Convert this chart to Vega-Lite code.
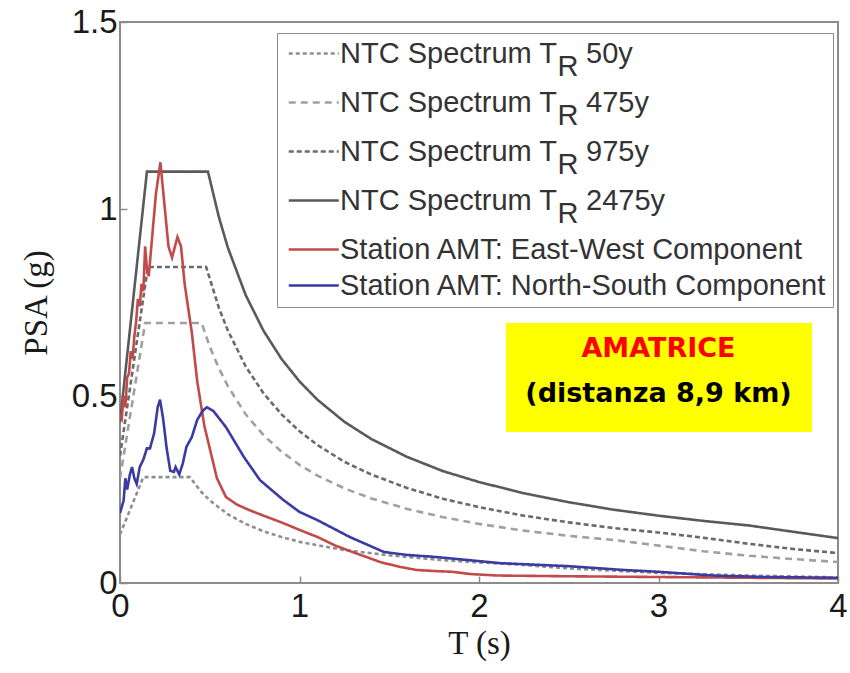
{
  "$schema": "https://vega.github.io/schema/vega-lite/v6.json",
  "width": 718,
  "height": 561,
  "autosize": "none",
  "padding": {"left": 120, "top": 22, "right": 12, "bottom": 90},
  "background": "white",
  "config": {
    "view": {"stroke": "#8c8c8c", "strokeWidth": 2},
    "axis": {
      "domain": false, "grid": false, "ticks": true, "tickSize": 7, "offset": -7, "tickColor": "#8c8c8c", "tickWidth": 1.5,
      "labelFont": "Liberation Sans", "labelFontSize": 33, "labelColor": "#1a1a1a", "labelFlush": false,
      "titleFont": "Liberation Serif", "titleFontSize": 33, "titleFontWeight": "normal", "titleColor": "#1a1a1a"
    },
    "legend": {
      "orient": "none", "legendX": 157, "legendY": 11, "padding": 6,
      "strokeColor": "#8c8c8c", "fillColor": "white",
      "symbolType": "M-0.7,0H3.3", "symbolSize": 625, "symbolStrokeWidth": 2.5,
      "labelFont": "Liberation Sans", "labelFontSize": 29, "labelColor": "#333333", "labelLimit": 700,
      "labelOffset": 28, "rowPadding": 6
    },
    "style": {"guide-label": {"lineHeight": 13}}
  },
  "layer": [
    {
      "data": {"values": [{}]},
      "mark": {"type": "rect", "color": "#ffff00"},
      "encoding": {
        "x": {"datum": 2.15, "type": "quantitative"},
        "x2": {"datum": 3.855},
        "y": {"datum": 0.695, "type": "quantitative"},
        "y2": {"datum": 0.404}
      }
    },
    {
      "data": {"values": [{}]},
      "mark": {"type": "text", "text": "AMATRICE", "color": "#ff0000", "font": "DejaVu Sans", "fontWeight": "bold", "fontSize": 27, "align": "center", "baseline": "alphabetic"},
      "encoding": {
        "x": {"datum": 3.0, "type": "quantitative"},
        "y": {"datum": 0.604, "type": "quantitative"}
      }
    },
    {
      "data": {"values": [{}]},
      "mark": {"type": "text", "text": "(distanza 8,9 km)", "color": "#000000", "font": "DejaVu Sans", "fontWeight": "bold", "fontSize": 27, "align": "center", "baseline": "alphabetic"},
      "encoding": {
        "x": {"datum": 3.0, "type": "quantitative"},
        "y": {"datum": 0.484, "type": "quantitative"}
      }
    },
    {
      "data": {"values": [
        {"series": "NTC Spectrum TR 50y", "T": 0, "psa": 0.13},
        {"series": "NTC Spectrum TR 50y", "T": 0.13, "psa": 0.283},
        {"series": "NTC Spectrum TR 50y", "T": 0.39, "psa": 0.283},
        {"series": "NTC Spectrum TR 50y", "T": 0.45, "psa": 0.245},
        {"series": "NTC Spectrum TR 50y", "T": 0.5, "psa": 0.221},
        {"series": "NTC Spectrum TR 50y", "T": 0.6, "psa": 0.184},
        {"series": "NTC Spectrum TR 50y", "T": 0.7, "psa": 0.158},
        {"series": "NTC Spectrum TR 50y", "T": 0.8, "psa": 0.138},
        {"series": "NTC Spectrum TR 50y", "T": 0.9, "psa": 0.123},
        {"series": "NTC Spectrum TR 50y", "T": 1.0, "psa": 0.11},
        {"series": "NTC Spectrum TR 50y", "T": 1.25, "psa": 0.088},
        {"series": "NTC Spectrum TR 50y", "T": 1.5, "psa": 0.074},
        {"series": "NTC Spectrum TR 50y", "T": 1.8, "psa": 0.061},
        {"series": "NTC Spectrum TR 50y", "T": 2.0, "psa": 0.055},
        {"series": "NTC Spectrum TR 50y", "T": 2.2, "psa": 0.05},
        {"series": "NTC Spectrum TR 50y", "T": 2.5, "psa": 0.039},
        {"series": "NTC Spectrum TR 50y", "T": 3.0, "psa": 0.027},
        {"series": "NTC Spectrum TR 50y", "T": 3.5, "psa": 0.02},
        {"series": "NTC Spectrum TR 50y", "T": 4.0, "psa": 0.015},

        {"series": "NTC Spectrum TR 475y", "T": 0, "psa": 0.28},
        {"series": "NTC Spectrum TR 475y", "T": 0.14, "psa": 0.695},
        {"series": "NTC Spectrum TR 475y", "T": 0.455, "psa": 0.695},
        {"series": "NTC Spectrum TR 475y", "T": 0.5, "psa": 0.632},
        {"series": "NTC Spectrum TR 475y", "T": 0.55, "psa": 0.575},
        {"series": "NTC Spectrum TR 475y", "T": 0.6, "psa": 0.527},
        {"series": "NTC Spectrum TR 475y", "T": 0.7, "psa": 0.451},
        {"series": "NTC Spectrum TR 475y", "T": 0.8, "psa": 0.395},
        {"series": "NTC Spectrum TR 475y", "T": 0.9, "psa": 0.351},
        {"series": "NTC Spectrum TR 475y", "T": 1.0, "psa": 0.316},
        {"series": "NTC Spectrum TR 475y", "T": 1.1, "psa": 0.287},
        {"series": "NTC Spectrum TR 475y", "T": 1.25, "psa": 0.253},
        {"series": "NTC Spectrum TR 475y", "T": 1.4, "psa": 0.226},
        {"series": "NTC Spectrum TR 475y", "T": 1.6, "psa": 0.198},
        {"series": "NTC Spectrum TR 475y", "T": 1.8, "psa": 0.176},
        {"series": "NTC Spectrum TR 475y", "T": 2.0, "psa": 0.158},
        {"series": "NTC Spectrum TR 475y", "T": 2.25, "psa": 0.14},
        {"series": "NTC Spectrum TR 475y", "T": 2.5, "psa": 0.126},
        {"series": "NTC Spectrum TR 475y", "T": 2.75, "psa": 0.115},
        {"series": "NTC Spectrum TR 475y", "T": 3.0, "psa": 0.1},
        {"series": "NTC Spectrum TR 475y", "T": 3.25, "psa": 0.085},
        {"series": "NTC Spectrum TR 475y", "T": 3.5, "psa": 0.073},
        {"series": "NTC Spectrum TR 475y", "T": 3.75, "psa": 0.064},
        {"series": "NTC Spectrum TR 475y", "T": 4.0, "psa": 0.056},

        {"series": "NTC Spectrum TR 975y", "T": 0, "psa": 0.34},
        {"series": "NTC Spectrum TR 975y", "T": 0.155, "psa": 0.845},
        {"series": "NTC Spectrum TR 975y", "T": 0.48, "psa": 0.845},
        {"series": "NTC Spectrum TR 975y", "T": 0.55, "psa": 0.737},
        {"series": "NTC Spectrum TR 975y", "T": 0.6, "psa": 0.676},
        {"series": "NTC Spectrum TR 975y", "T": 0.7, "psa": 0.579},
        {"series": "NTC Spectrum TR 975y", "T": 0.8, "psa": 0.507},
        {"series": "NTC Spectrum TR 975y", "T": 0.9, "psa": 0.451},
        {"series": "NTC Spectrum TR 975y", "T": 1.0, "psa": 0.406},
        {"series": "NTC Spectrum TR 975y", "T": 1.1, "psa": 0.369},
        {"series": "NTC Spectrum TR 975y", "T": 1.25, "psa": 0.324},
        {"series": "NTC Spectrum TR 975y", "T": 1.4, "psa": 0.29},
        {"series": "NTC Spectrum TR 975y", "T": 1.6, "psa": 0.254},
        {"series": "NTC Spectrum TR 975y", "T": 1.8, "psa": 0.225},
        {"series": "NTC Spectrum TR 975y", "T": 2.0, "psa": 0.203},
        {"series": "NTC Spectrum TR 975y", "T": 2.25, "psa": 0.18},
        {"series": "NTC Spectrum TR 975y", "T": 2.5, "psa": 0.162},
        {"series": "NTC Spectrum TR 975y", "T": 2.75, "psa": 0.147},
        {"series": "NTC Spectrum TR 975y", "T": 3.0, "psa": 0.135},
        {"series": "NTC Spectrum TR 975y", "T": 3.25, "psa": 0.121},
        {"series": "NTC Spectrum TR 975y", "T": 3.5, "psa": 0.105},
        {"series": "NTC Spectrum TR 975y", "T": 3.75, "psa": 0.091},
        {"series": "NTC Spectrum TR 975y", "T": 4.0, "psa": 0.08},

        {"series": "NTC Spectrum TR 2475y", "T": 0, "psa": 0.43},
        {"series": "NTC Spectrum TR 2475y", "T": 0.15, "psa": 1.1},
        {"series": "NTC Spectrum TR 2475y", "T": 0.49, "psa": 1.1},
        {"series": "NTC Spectrum TR 2475y", "T": 0.55, "psa": 0.98},
        {"series": "NTC Spectrum TR 2475y", "T": 0.6, "psa": 0.898},
        {"series": "NTC Spectrum TR 2475y", "T": 0.7, "psa": 0.77},
        {"series": "NTC Spectrum TR 2475y", "T": 0.8, "psa": 0.674},
        {"series": "NTC Spectrum TR 2475y", "T": 0.9, "psa": 0.599},
        {"series": "NTC Spectrum TR 2475y", "T": 1.0, "psa": 0.539},
        {"series": "NTC Spectrum TR 2475y", "T": 1.1, "psa": 0.49},
        {"series": "NTC Spectrum TR 2475y", "T": 1.25, "psa": 0.431},
        {"series": "NTC Spectrum TR 2475y", "T": 1.4, "psa": 0.385},
        {"series": "NTC Spectrum TR 2475y", "T": 1.6, "psa": 0.337},
        {"series": "NTC Spectrum TR 2475y", "T": 1.8, "psa": 0.299},
        {"series": "NTC Spectrum TR 2475y", "T": 2.0, "psa": 0.27},
        {"series": "NTC Spectrum TR 2475y", "T": 2.25, "psa": 0.24},
        {"series": "NTC Spectrum TR 2475y", "T": 2.5, "psa": 0.216},
        {"series": "NTC Spectrum TR 2475y", "T": 2.75, "psa": 0.196},
        {"series": "NTC Spectrum TR 2475y", "T": 3.0, "psa": 0.18},
        {"series": "NTC Spectrum TR 2475y", "T": 3.25, "psa": 0.166},
        {"series": "NTC Spectrum TR 2475y", "T": 3.5, "psa": 0.154},
        {"series": "NTC Spectrum TR 2475y", "T": 3.75, "psa": 0.137},
        {"series": "NTC Spectrum TR 2475y", "T": 4.0, "psa": 0.12},

        {"series": "Station AMT: East-West Component", "T": 0.0, "psa": 0.45},
        {"series": "Station AMT: East-West Component", "T": 0.01, "psa": 0.44},
        {"series": "Station AMT: East-West Component", "T": 0.02, "psa": 0.5},
        {"series": "Station AMT: East-West Component", "T": 0.03, "psa": 0.47},
        {"series": "Station AMT: East-West Component", "T": 0.04, "psa": 0.55},
        {"series": "Station AMT: East-West Component", "T": 0.05, "psa": 0.56},
        {"series": "Station AMT: East-West Component", "T": 0.06, "psa": 0.62},
        {"series": "Station AMT: East-West Component", "T": 0.07, "psa": 0.6},
        {"series": "Station AMT: East-West Component", "T": 0.08, "psa": 0.66},
        {"series": "Station AMT: East-West Component", "T": 0.09, "psa": 0.7},
        {"series": "Station AMT: East-West Component", "T": 0.1, "psa": 0.76},
        {"series": "Station AMT: East-West Component", "T": 0.11, "psa": 0.74},
        {"series": "Station AMT: East-West Component", "T": 0.12, "psa": 0.8},
        {"series": "Station AMT: East-West Component", "T": 0.13, "psa": 0.78},
        {"series": "Station AMT: East-West Component", "T": 0.14, "psa": 0.9},
        {"series": "Station AMT: East-West Component", "T": 0.15, "psa": 0.84},
        {"series": "Station AMT: East-West Component", "T": 0.16, "psa": 0.82},
        {"series": "Station AMT: East-West Component", "T": 0.18, "psa": 0.93},
        {"series": "Station AMT: East-West Component", "T": 0.2, "psa": 1.04},
        {"series": "Station AMT: East-West Component", "T": 0.225, "psa": 1.125},
        {"series": "Station AMT: East-West Component", "T": 0.25, "psa": 1.0},
        {"series": "Station AMT: East-West Component", "T": 0.27, "psa": 0.9},
        {"series": "Station AMT: East-West Component", "T": 0.29, "psa": 0.87},
        {"series": "Station AMT: East-West Component", "T": 0.32, "psa": 0.925},
        {"series": "Station AMT: East-West Component", "T": 0.34, "psa": 0.9},
        {"series": "Station AMT: East-West Component", "T": 0.36, "psa": 0.8},
        {"series": "Station AMT: East-West Component", "T": 0.4, "psa": 0.67},
        {"series": "Station AMT: East-West Component", "T": 0.43, "psa": 0.54},
        {"series": "Station AMT: East-West Component", "T": 0.47, "psa": 0.42},
        {"series": "Station AMT: East-West Component", "T": 0.5, "psa": 0.36},
        {"series": "Station AMT: East-West Component", "T": 0.54, "psa": 0.28},
        {"series": "Station AMT: East-West Component", "T": 0.59, "psa": 0.23},
        {"series": "Station AMT: East-West Component", "T": 0.65, "psa": 0.21},
        {"series": "Station AMT: East-West Component", "T": 0.72, "psa": 0.195},
        {"series": "Station AMT: East-West Component", "T": 0.8, "psa": 0.18},
        {"series": "Station AMT: East-West Component", "T": 0.91, "psa": 0.16},
        {"series": "Station AMT: East-West Component", "T": 1.0, "psa": 0.142},
        {"series": "Station AMT: East-West Component", "T": 1.1, "psa": 0.123},
        {"series": "Station AMT: East-West Component", "T": 1.2, "psa": 0.1},
        {"series": "Station AMT: East-West Component", "T": 1.3, "psa": 0.082},
        {"series": "Station AMT: East-West Component", "T": 1.37, "psa": 0.07},
        {"series": "Station AMT: East-West Component", "T": 1.45, "psa": 0.056},
        {"series": "Station AMT: East-West Component", "T": 1.56, "psa": 0.043},
        {"series": "Station AMT: East-West Component", "T": 1.65, "psa": 0.035},
        {"series": "Station AMT: East-West Component", "T": 1.75, "psa": 0.032},
        {"series": "Station AMT: East-West Component", "T": 1.85, "psa": 0.03},
        {"series": "Station AMT: East-West Component", "T": 1.95, "psa": 0.024},
        {"series": "Station AMT: East-West Component", "T": 2.1, "psa": 0.02},
        {"series": "Station AMT: East-West Component", "T": 2.5, "psa": 0.018},
        {"series": "Station AMT: East-West Component", "T": 3.0, "psa": 0.016},
        {"series": "Station AMT: East-West Component", "T": 3.5, "psa": 0.014},
        {"series": "Station AMT: East-West Component", "T": 4.0, "psa": 0.012},

        {"series": "Station AMT: North-South Component", "T": 0.0, "psa": 0.187},
        {"series": "Station AMT: North-South Component", "T": 0.02, "psa": 0.22},
        {"series": "Station AMT: North-South Component", "T": 0.03, "psa": 0.28},
        {"series": "Station AMT: North-South Component", "T": 0.04, "psa": 0.25},
        {"series": "Station AMT: North-South Component", "T": 0.055, "psa": 0.29},
        {"series": "Station AMT: North-South Component", "T": 0.067, "psa": 0.31},
        {"series": "Station AMT: North-South Component", "T": 0.08, "psa": 0.28},
        {"series": "Station AMT: North-South Component", "T": 0.093, "psa": 0.265},
        {"series": "Station AMT: North-South Component", "T": 0.11, "psa": 0.31},
        {"series": "Station AMT: North-South Component", "T": 0.13, "psa": 0.33},
        {"series": "Station AMT: North-South Component", "T": 0.15, "psa": 0.36},
        {"series": "Station AMT: North-South Component", "T": 0.167, "psa": 0.36},
        {"series": "Station AMT: North-South Component", "T": 0.19, "psa": 0.4},
        {"series": "Station AMT: North-South Component", "T": 0.21, "psa": 0.47},
        {"series": "Station AMT: North-South Component", "T": 0.223, "psa": 0.49},
        {"series": "Station AMT: North-South Component", "T": 0.24, "psa": 0.44},
        {"series": "Station AMT: North-South Component", "T": 0.26, "psa": 0.36},
        {"series": "Station AMT: North-South Component", "T": 0.28, "psa": 0.3},
        {"series": "Station AMT: North-South Component", "T": 0.3, "psa": 0.297},
        {"series": "Station AMT: North-South Component", "T": 0.31, "psa": 0.31},
        {"series": "Station AMT: North-South Component", "T": 0.33, "psa": 0.29},
        {"series": "Station AMT: North-South Component", "T": 0.35, "psa": 0.32},
        {"series": "Station AMT: North-South Component", "T": 0.37, "psa": 0.364},
        {"series": "Station AMT: North-South Component", "T": 0.4, "psa": 0.39},
        {"series": "Station AMT: North-South Component", "T": 0.43, "psa": 0.436},
        {"series": "Station AMT: North-South Component", "T": 0.46, "psa": 0.46},
        {"series": "Station AMT: North-South Component", "T": 0.484, "psa": 0.47},
        {"series": "Station AMT: North-South Component", "T": 0.52, "psa": 0.46},
        {"series": "Station AMT: North-South Component", "T": 0.59, "psa": 0.417},
        {"series": "Station AMT: North-South Component", "T": 0.69, "psa": 0.337},
        {"series": "Station AMT: North-South Component", "T": 0.78, "psa": 0.275},
        {"series": "Station AMT: North-South Component", "T": 0.91, "psa": 0.222},
        {"series": "Station AMT: North-South Component", "T": 1.0, "psa": 0.19},
        {"series": "Station AMT: North-South Component", "T": 1.1, "psa": 0.168},
        {"series": "Station AMT: North-South Component", "T": 1.28, "psa": 0.123},
        {"series": "Station AMT: North-South Component", "T": 1.47, "psa": 0.083},
        {"series": "Station AMT: North-South Component", "T": 1.6, "psa": 0.075},
        {"series": "Station AMT: North-South Component", "T": 1.75, "psa": 0.07},
        {"series": "Station AMT: North-South Component", "T": 2.12, "psa": 0.053},
        {"series": "Station AMT: North-South Component", "T": 2.5, "psa": 0.045},
        {"series": "Station AMT: North-South Component", "T": 2.8, "psa": 0.035},
        {"series": "Station AMT: North-South Component", "T": 3.0, "psa": 0.03},
        {"series": "Station AMT: North-South Component", "T": 3.3, "psa": 0.02},
        {"series": "Station AMT: North-South Component", "T": 3.6, "psa": 0.016},
        {"series": "Station AMT: North-South Component", "T": 4.0, "psa": 0.014}
      ]},
      "mark": {"type": "line", "strokeWidth": 2.6, "clip": true},
      "encoding": {
        "x": {"field": "T", "type": "quantitative", "scale": {"domain": [0, 4], "nice": false},
              "axis": {"values": [0, 1, 2, 3, 4], "format": "~g", "title": "T (s)", "labelPadding": 7, "titlePadding": 4}},
        "y": {"field": "psa", "type": "quantitative", "scale": {"domain": [0, 1.5], "nice": false},
              "axis": {"values": [0, 0.5, 1, 1.5], "format": "~g", "title": "PSA (g)", "labelPadding": 3, "titlePadding": 18}},
        "color": {"field": "series", "type": "nominal",
          "scale": {"domain": ["NTC Spectrum TR 50y", "NTC Spectrum TR 475y", "NTC Spectrum TR 975y", "NTC Spectrum TR 2475y", "Station AMT: East-West Component", "Station AMT: North-South Component"],
                    "range": ["#8f8f8f", "#a0a0a0", "#6a6a6a", "#5a5a5a", "#c24a4a", "#3a3aa0"]},
          "legend": {"title": null, "labelExpr": "indexof(datum.value, 'TR ') > 0 ? [replace(datum.value, 'TR ', 'T\u2002\u2002'), '\u200b\u2003\u2003\u2003\u2003\u2003\u2003\u2003\u2002R'] : datum.value"}},
        "strokeDash": {"field": "series", "type": "nominal",
          "scale": {"domain": ["NTC Spectrum TR 50y", "NTC Spectrum TR 475y", "NTC Spectrum TR 975y", "NTC Spectrum TR 2475y", "Station AMT: East-West Component", "Station AMT: North-South Component"],
                    "range": [[4, 3], [7, 5], [5, 3], [1, 0], [1, 0], [1, 0]]},
          "legend": {"title": null, "labelExpr": "indexof(datum.value, 'TR ') > 0 ? [replace(datum.value, 'TR ', 'T\u2002\u2002'), '\u200b\u2003\u2003\u2003\u2003\u2003\u2003\u2003\u2002R'] : datum.value"}}
      }
    }
  ]
}
